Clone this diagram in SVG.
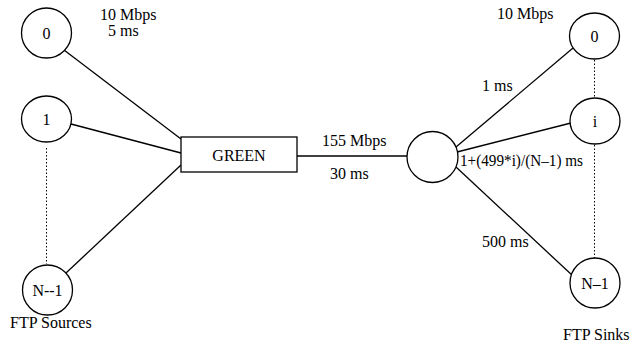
<svg xmlns="http://www.w3.org/2000/svg" width="641" height="343" viewBox="0 0 641 343" font-family="'Liberation Serif', 'Times New Roman', 'DejaVu Serif', serif">
<style>
text{font-family:"Liberation Serif","Times New Roman","DejaVu Serif",serif;font-size:16px;fill:#000}
.n{fill:#fff;stroke:#000;stroke-width:1.3}
.c{stroke:#000;stroke-width:1.3;fill:none}
.d{stroke:#000;stroke-width:1;stroke-dasharray:1.5 2;fill:none}
.m{text-anchor:middle}
</style>
<rect width="641" height="343" fill="#fff"/>
<g id="connectors">
<line class="c" x1="64" y1="50" x2="181" y2="139"/>
<line class="c" x1="71" y1="124" x2="181" y2="153"/>
<line class="c" x1="66" y1="273" x2="181" y2="165"/>
<line class="c" x1="297" y1="156" x2="407" y2="156"/>
<line class="c" x1="456" y1="147" x2="573" y2="48"/>
<line class="c" x1="457" y1="152" x2="571" y2="123"/>
<line class="c" x1="456" y1="167" x2="573" y2="276"/>
<line class="d" x1="46.5" y1="148" x2="46.5" y2="264"/>
<line class="d" x1="594.5" y1="60" x2="594.5" y2="97"/>
<line class="d" x1="594.5" y1="145" x2="594.5" y2="258"/>
</g>
<g id="src0"><ellipse class="n" cx="46.5" cy="33" rx="25" ry="25"/><text class="m" x="46.5" y="39">0</text></g>
<g id="src1"><ellipse class="n" cx="46.5" cy="119" rx="25" ry="23"/><text class="m" x="46.5" y="125">1</text></g>
<g id="srcN"><ellipse class="n" cx="47.5" cy="290" rx="25" ry="25"/><text class="m" x="47.5" y="296">N--1</text></g>
<g id="green"><rect class="n" x="181" y="137" width="116" height="35"/><text class="m" x="239" y="161">GREEN</text></g>
<g id="router"><circle class="n" cx="432.5" cy="157" r="25.5"/></g>
<g id="sink0"><ellipse class="n" cx="594.5" cy="36" rx="25" ry="23"/><text class="m" x="594.5" y="42">0</text></g>
<g id="sinki"><ellipse class="n" cx="595" cy="121" rx="25" ry="23"/><text class="m" x="595" y="127">i</text></g>
<g id="sinkN"><ellipse class="n" cx="595" cy="283" rx="25" ry="25"/><text class="m" x="595" y="289">N–1</text></g>
<g id="labels">
<text x="100" y="20">10 Mbps</text>
<text x="108" y="36">5 ms</text>
<text x="497" y="19">10 Mbps</text>
<text x="482" y="91">1 ms</text>
<text x="322" y="146">155 Mbps</text>
<text x="330" y="179">30 ms</text>
<text x="460" y="166" textLength="123" lengthAdjust="spacingAndGlyphs">1+(499*i)/(N–1) ms</text>
<text x="482" y="247">500 ms</text>
<text x="10" y="328">FTP Sources</text>
<text x="563" y="340">FTP Sinks</text>
</g>
</svg>
